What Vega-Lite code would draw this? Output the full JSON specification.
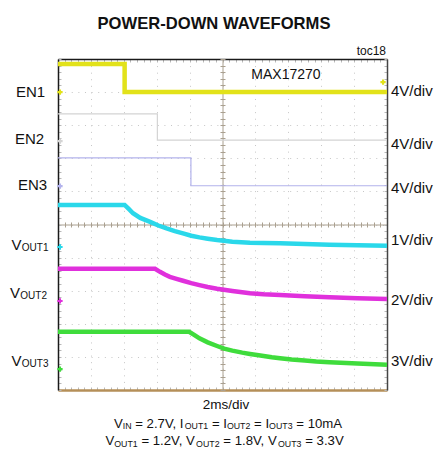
{
  "$schema": "https://vega.github.io/schema/vega-lite/v6.json",
  "width": 329,
  "height": 331,
  "autosize": "none",
  "padding": {"left": 58, "top": 59, "right": 54, "bottom": 66},
  "background": "white",
  "title": {"text": "POWER-DOWN WAVEFORMS", "font": "Liberation Sans", "fontSize": 16.6, "fontWeight": "bold", "color": "#111111", "anchor": "middle", "frame": "group", "dx": -8.5, "offset": 12.5},
  "config": {"view": {"stroke": null}, "text": {"font": "Liberation Sans", "color": "#111111"}},
  "datasets": {
    "traces": [
      {"series": "EN1", "t": 0, "v": 9.85}, {"series": "EN1", "t": 4.05, "v": 9.85}, {"series": "EN1", "t": 4.05, "v": 9.0}, {"series": "EN1", "t": 20, "v": 9.0},
      {"series": "EN2", "t": 0, "v": 8.34}, {"series": "EN2", "t": 6.04, "v": 8.34}, {"series": "EN2", "t": 6.04, "v": 7.55}, {"series": "EN2", "t": 20, "v": 7.55},
      {"series": "EN3", "t": 0, "v": 7.01}, {"series": "EN3", "t": 8.08, "v": 7.01}, {"series": "EN3", "t": 8.08, "v": 6.17}, {"series": "EN3", "t": 20, "v": 6.17},
      {"series": "VOUT1", "t": 0, "v": 5.59}, {"series": "VOUT1", "t": 4.05, "v": 5.59}, {"series": "VOUT1", "t": 4.3, "v": 5.47}, {"series": "VOUT1", "t": 4.56, "v": 5.34}, {"series": "VOUT1", "t": 5.0, "v": 5.2}, {"series": "VOUT1", "t": 5.6, "v": 5.08}, {"series": "VOUT1", "t": 6.1, "v": 4.97}, {"series": "VOUT1", "t": 6.6, "v": 4.88}, {"series": "VOUT1", "t": 7.1, "v": 4.8}, {"series": "VOUT1", "t": 7.6, "v": 4.73}, {"series": "VOUT1", "t": 8.1, "v": 4.66}, {"series": "VOUT1", "t": 8.6, "v": 4.61}, {"series": "VOUT1", "t": 9.1, "v": 4.57}, {"series": "VOUT1", "t": 9.67, "v": 4.53}, {"series": "VOUT1", "t": 10.6, "v": 4.48}, {"series": "VOUT1", "t": 11.67, "v": 4.45}, {"series": "VOUT1", "t": 12.5, "v": 4.44}, {"series": "VOUT1", "t": 13.5, "v": 4.43}, {"series": "VOUT1", "t": 15, "v": 4.41}, {"series": "VOUT1", "t": 16.5, "v": 4.39}, {"series": "VOUT1", "t": 18.2, "v": 4.37}, {"series": "VOUT1", "t": 20, "v": 4.36},
      {"series": "VOUT2", "t": 0, "v": 3.66}, {"series": "VOUT2", "t": 5.9, "v": 3.66}, {"series": "VOUT2", "t": 6.2, "v": 3.57}, {"series": "VOUT2", "t": 6.5, "v": 3.49}, {"series": "VOUT2", "t": 6.8, "v": 3.42}, {"series": "VOUT2", "t": 7.2, "v": 3.36}, {"series": "VOUT2", "t": 7.6, "v": 3.3}, {"series": "VOUT2", "t": 8.1, "v": 3.23}, {"series": "VOUT2", "t": 8.6, "v": 3.17}, {"series": "VOUT2", "t": 9.1, "v": 3.11}, {"series": "VOUT2", "t": 9.67, "v": 3.06}, {"series": "VOUT2", "t": 10.6, "v": 2.99}, {"series": "VOUT2", "t": 11.67, "v": 2.92}, {"series": "VOUT2", "t": 12.5, "v": 2.89}, {"series": "VOUT2", "t": 13.5, "v": 2.87}, {"series": "VOUT2", "t": 15, "v": 2.83}, {"series": "VOUT2", "t": 16.5, "v": 2.8}, {"series": "VOUT2", "t": 18.2, "v": 2.77}, {"series": "VOUT2", "t": 20, "v": 2.75},
      {"series": "VOUT3", "t": 0, "v": 1.76}, {"series": "VOUT3", "t": 7.97, "v": 1.76}, {"series": "VOUT3", "t": 8.3, "v": 1.66}, {"series": "VOUT3", "t": 8.6, "v": 1.56}, {"series": "VOUT3", "t": 9.1, "v": 1.44}, {"series": "VOUT3", "t": 9.67, "v": 1.33}, {"series": "VOUT3", "t": 10.1, "v": 1.25}, {"series": "VOUT3", "t": 10.6, "v": 1.19}, {"series": "VOUT3", "t": 11.2, "v": 1.13}, {"series": "VOUT3", "t": 11.67, "v": 1.09}, {"series": "VOUT3", "t": 12.2, "v": 1.05}, {"series": "VOUT3", "t": 13, "v": 0.99}, {"series": "VOUT3", "t": 13.5, "v": 0.96}, {"series": "VOUT3", "t": 14.2, "v": 0.92}, {"series": "VOUT3", "t": 15, "v": 0.89}, {"series": "VOUT3", "t": 15.7, "v": 0.86}, {"series": "VOUT3", "t": 16.5, "v": 0.84}, {"series": "VOUT3", "t": 18.2, "v": 0.8}, {"series": "VOUT3", "t": 20, "v": 0.76}
    ],
    "markers": [
      {"series": "EN1", "t": 0.12, "v": 9.0}, {"series": "EN2", "t": 0.12, "v": 7.52}, {"series": "EN3", "t": 0.12, "v": 6.16},
      {"series": "VOUT1", "t": 0.12, "v": 4.32}, {"series": "VOUT2", "t": 0.12, "v": 2.69}, {"series": "VOUT3", "t": 0.12, "v": 0.63},
      {"series": "EN1", "t": 19.76, "v": 9.3}
    ],
    "texts": [
      {"kind": "label", "text": "EN1", "t": -2.553, "v": 8.852},
      {"kind": "label", "text": "EN2", "t": -2.614, "v": 7.432},
      {"kind": "label", "text": "EN3", "t": -2.432, "v": 6.042},
      {"kind": "label", "text": "V", "t": -2.827, "v": 4.23},
      {"kind": "label", "text": "V", "t": -2.918, "v": 2.779},
      {"kind": "label", "text": "V", "t": -2.827, "v": 0.725},
      {"kind": "labelSub", "text": "OUT1", "t": -2.2, "v": 4.23},
      {"kind": "labelSub", "text": "OUT2", "t": -2.29, "v": 2.779},
      {"kind": "labelSub", "text": "OUT3", "t": -2.2, "v": 0.725},
      {"kind": "label", "text": "4V/div", "t": 20.243, "v": 8.882},
      {"kind": "label", "text": "4V/div", "t": 20.243, "v": 7.281},
      {"kind": "label", "text": "4V/div", "t": 20.243, "v": 5.952},
      {"kind": "label", "text": "1V/div", "t": 20.243, "v": 4.381},
      {"kind": "label", "text": "2V/div", "t": 20.243, "v": 2.568},
      {"kind": "label", "text": "3V/div", "t": 20.243, "v": 0.725},
      {"kind": "brand", "text": "MAX17270", "t": 13.86, "v": 9.396},
      {"kind": "toc", "text": "toc18", "t": 19.94, "v": 10.12},
      {"kind": "xunit", "text": "2ms/div", "t": 10.21, "v": -0.574},
      {"kind": "cond", "text": "V", "t": 3.398, "v": -1.148},
      {"kind": "condSub", "text": "IN", "t": 3.933, "v": -1.148},
      {"kind": "cond", "text": "= 2.7V, I", "t": 4.693, "v": -1.148},
      {"kind": "condSub", "text": "OUT1", "t": 7.702, "v": -1.148},
      {"kind": "cond", "text": "= I", "t": 9.356, "v": -1.148},
      {"kind": "condSub", "text": "OUT2", "t": 10.267, "v": -1.148},
      {"kind": "cond", "text": "= I", "t": 11.921, "v": -1.148},
      {"kind": "condSub", "text": "OUT3", "t": 12.833, "v": -1.148},
      {"kind": "cond", "text": "= 10mA", "t": 14.486, "v": -1.148},
      {"kind": "cond", "text": "V", "t": 2.881, "v": -1.662},
      {"kind": "condSub", "text": "OUT1", "t": 3.416, "v": -1.662},
      {"kind": "cond", "text": "= 1.2V, V", "t": 5.07, "v": -1.662},
      {"kind": "condSub", "text": "OUT2", "t": 8.395, "v": -1.662},
      {"kind": "cond", "text": "= 1.8V, V", "t": 10.049, "v": -1.662},
      {"kind": "condSub", "text": "OUT3", "t": 13.374, "v": -1.662},
      {"kind": "cond", "text": "= 3.3V", "t": 15.027, "v": -1.662}
    ]
  },
  "layer": [
    {
      "data": {"name": "traces"},
      "transform": [{"filter": "datum.series === 'EN2' || datum.series === 'EN3'"}],
      "mark": {"type": "line", "strokeWidth": 1.2},
      "encoding": {
        "x": {"field": "t", "type": "quantitative", "scale": {"domain": [0, 20], "nice": false, "zero": false},
          "axis": {"orient": "bottom", "values": [0, 2, 4, 6, 8, 10, 12, 14, 16, 18, 20], "grid": true, "gridColor": "#c6c6c6", "gridDash": [1, 5.58], "gridWidth": 1, "ticks": false, "labels": false, "domain": false, "title": null}},
        "y": {"field": "v", "type": "quantitative", "scale": {"domain": [0, 10], "nice": false, "zero": false},
          "axis": {"orient": "left", "values": [0, 1, 2, 3, 4, 5, 6, 7, 8, 9, 10], "grid": true, "gridColor": "#c6c6c6", "gridDash": [1, 5.62], "gridWidth": 1, "ticks": false, "labels": false, "domain": false, "title": null}},
        "color": {"field": "series", "type": "nominal", "scale": {"domain": ["EN1", "EN2", "EN3", "VOUT1", "VOUT2", "VOUT3"], "range": ["#e2e21a", "#d4d4d4", "#b3b3ec", "#2ad8ea", "#e030dc", "#3fdc3c"]}, "legend": null},
        "order": {"value": null}
      }
    },
    {
      "data": {"name": "traces"},
      "transform": [{"filter": "datum.series !== 'EN2' && datum.series !== 'EN3'"}],
      "mark": {"type": "line", "strokeWidth": 4.5},
      "encoding": {
        "x": {"field": "t", "type": "quantitative",
          "axis": {"orient": "bottom", "offset": -165.5, "values": [0,0.4,0.8,1.2,1.6,2,2.4,2.8,3.2,3.6,4,4.4,4.8,5.2,5.6,6,6.4,6.8,7.2,7.6,8,8.4,8.8,9.2,9.6,10,10.4,10.8,11.2,11.6,12,12.4,12.8,13.2,13.6,14,14.4,14.8,15.2,15.6,16,16.4,16.8,17.2,17.6,18,18.4,18.8,19.2,19.6,20], "grid": false, "ticks": true, "tickSize": 2.5, "tickColor": "#aaa090", "tickWidth": 1, "labels": false, "domain": true, "domainColor": "#aaa090", "domainWidth": 1, "title": null}},
        "y": {"field": "v", "type": "quantitative",
          "axis": {"orient": "left", "offset": -164.5, "values": [0,0.2,0.4,0.6,0.8,1,1.2,1.4,1.6,1.8,2,2.2,2.4,2.6,2.8,3,3.2,3.4,3.6,3.8,4,4.2,4.4,4.6,4.8,5,5.2,5.4,5.6,5.8,6,6.2,6.4,6.6,6.8,7,7.2,7.4,7.6,7.8,8,8.2,8.4,8.6,8.8,9,9.2,9.4,9.6,9.8,10], "grid": false, "ticks": true, "tickSize": 2.5, "tickColor": "#aaa090", "tickWidth": 1, "labels": false, "domain": true, "domainColor": "#aaa090", "domainWidth": 1, "title": null}},
        "color": {"field": "series", "type": "nominal", "legend": null},
        "order": {"value": null}
      }
    },
    {
      "data": {"name": "markers"},
      "mark": {"type": "point", "shape": "cross", "size": 28, "filled": true, "opacity": 1},
      "encoding": {
        "x": {"field": "t", "type": "quantitative",
          "axis": {"orient": "top", "offset": -165.5, "values": [0,0.4,0.8,1.2,1.6,2,2.4,2.8,3.2,3.6,4,4.4,4.8,5.2,5.6,6,6.4,6.8,7.2,7.6,8,8.4,8.8,9.2,9.6,10,10.4,10.8,11.2,11.6,12,12.4,12.8,13.2,13.6,14,14.4,14.8,15.2,15.6,16,16.4,16.8,17.2,17.6,18,18.4,18.8,19.2,19.6,20], "grid": false, "ticks": true, "tickSize": 2.5, "tickColor": "#aaa090", "tickWidth": 1, "labels": false, "domain": false, "title": null}},
        "y": {"field": "v", "type": "quantitative",
          "axis": {"orient": "right", "offset": -164.5, "values": [0,0.2,0.4,0.6,0.8,1,1.2,1.4,1.6,1.8,2,2.2,2.4,2.6,2.8,3,3.2,3.4,3.6,3.8,4,4.2,4.4,4.6,4.8,5,5.2,5.4,5.6,5.8,6,6.2,6.4,6.6,6.8,7,7.2,7.4,7.6,7.8,8,8.2,8.4,8.6,8.8,9,9.2,9.4,9.6,9.8,10], "grid": false, "ticks": true, "tickSize": 2.5, "tickColor": "#aaa090", "tickWidth": 1, "labels": false, "domain": false, "title": null}},
        "color": {"field": "series", "type": "nominal", "legend": null}
      }
    },
    {
      "data": {"name": "texts"},
      "transform": [{"filter": "datum.kind === 'label'"}],
      "mark": {"type": "text", "fontSize": 15, "align": "left", "baseline": "alphabetic"},
      "encoding": {
        "x": {"field": "t", "type": "quantitative",
          "axis": {"orient": "bottom", "values": [0,0.4,0.8,1.2,1.6,2,2.4,2.8,3.2,3.6,4,4.4,4.8,5.2,5.6,6,6.4,6.8,7.2,7.6,8,8.4,8.8,9.2,9.6,10,10.4,10.8,11.2,11.6,12,12.4,12.8,13.2,13.6,14,14.4,14.8,15.2,15.6,16,16.4,16.8,17.2,17.6,18,18.4,18.8,19.2,19.6,20], "grid": false, "ticks": true, "tickSize": -3, "tickColor": "#b8b8b8", "tickWidth": 1, "labels": false, "domain": true, "domainColor": "#b58f58", "domainWidth": 2.5, "title": null}},
        "y": {"field": "v", "type": "quantitative",
          "axis": {"orient": "left", "values": [0,0.2,0.4,0.6,0.8,1,1.2,1.4,1.6,1.8,2,2.2,2.4,2.6,2.8,3,3.2,3.4,3.6,3.8,4,4.2,4.4,4.6,4.8,5,5.2,5.4,5.6,5.8,6,6.2,6.4,6.6,6.8,7,7.2,7.4,7.6,7.8,8,8.2,8.4,8.6,8.8,9,9.2,9.4,9.6,9.8,10], "grid": false, "ticks": true, "tickSize": -3, "tickColor": "#b8b8b8", "tickWidth": 1, "labels": false, "domain": true, "domainColor": "#1a1a1a", "domainWidth": 1.5, "title": null}},
        "text": {"field": "text"}
      }
    },
    {
      "data": {"name": "texts"},
      "transform": [{"filter": "datum.kind === 'labelSub'"}],
      "mark": {"type": "text", "fontSize": 10, "align": "left", "baseline": "alphabetic", "dy": 1},
      "encoding": {
        "x": {"field": "t", "type": "quantitative",
          "axis": {"orient": "top", "values": [0,0.4,0.8,1.2,1.6,2,2.4,2.8,3.2,3.6,4,4.4,4.8,5.2,5.6,6,6.4,6.8,7.2,7.6,8,8.4,8.8,9.2,9.6,10,10.4,10.8,11.2,11.6,12,12.4,12.8,13.2,13.6,14,14.4,14.8,15.2,15.6,16,16.4,16.8,17.2,17.6,18,18.4,18.8,19.2,19.6,20], "grid": false, "ticks": true, "tickSize": -3, "tickColor": "#b8b8b8", "tickWidth": 1, "labels": false, "domain": true, "domainColor": "#1a1a1a", "domainWidth": 1.5, "title": null}},
        "y": {"field": "v", "type": "quantitative",
          "axis": {"orient": "right", "values": [0,0.2,0.4,0.6,0.8,1,1.2,1.4,1.6,1.8,2,2.2,2.4,2.6,2.8,3,3.2,3.4,3.6,3.8,4,4.2,4.4,4.6,4.8,5,5.2,5.4,5.6,5.8,6,6.2,6.4,6.6,6.8,7,7.2,7.4,7.6,7.8,8,8.2,8.4,8.6,8.8,9,9.2,9.4,9.6,9.8,10], "grid": false, "ticks": true, "tickSize": -3, "tickColor": "#b8b8b8", "tickWidth": 1, "labels": false, "domain": true, "domainColor": "#444444", "domainWidth": 1.5, "title": null}},
        "text": {"field": "text"}
      }
    },
    {
      "data": {"name": "texts"},
      "transform": [{"filter": "datum.kind === 'brand'"}],
      "mark": {"type": "text", "fontSize": 14, "align": "center", "baseline": "alphabetic"},
      "encoding": {
        "x": {"field": "t", "type": "quantitative", "axis": null},
        "y": {"field": "v", "type": "quantitative", "axis": null},
        "text": {"field": "text"}
      }
    },
    {
      "data": {"name": "texts"},
      "transform": [{"filter": "datum.kind === 'toc'"}],
      "mark": {"type": "text", "fontSize": 12, "align": "right", "baseline": "alphabetic"},
      "encoding": {
        "x": {"field": "t", "type": "quantitative", "axis": null},
        "y": {"field": "v", "type": "quantitative", "axis": null},
        "text": {"field": "text"}
      }
    },
    {
      "data": {"name": "texts"},
      "transform": [{"filter": "datum.kind === 'xunit'"}],
      "mark": {"type": "text", "fontSize": 13.5, "align": "center", "baseline": "alphabetic"},
      "encoding": {
        "x": {"field": "t", "type": "quantitative", "axis": null},
        "y": {"field": "v", "type": "quantitative", "axis": null},
        "text": {"field": "text"}
      }
    },
    {
      "data": {"name": "texts"},
      "transform": [{"filter": "datum.kind === 'cond'"}],
      "mark": {"type": "text", "fontSize": 13.2, "align": "left", "baseline": "alphabetic"},
      "encoding": {
        "x": {"field": "t", "type": "quantitative", "axis": null},
        "y": {"field": "v", "type": "quantitative", "axis": null},
        "text": {"field": "text"}
      }
    },
    {
      "data": {"name": "texts"},
      "transform": [{"filter": "datum.kind === 'condSub'"}],
      "mark": {"type": "text", "fontSize": 8.8, "align": "left", "baseline": "alphabetic", "dy": 1.5},
      "encoding": {
        "x": {"field": "t", "type": "quantitative", "axis": null},
        "y": {"field": "v", "type": "quantitative", "axis": null},
        "text": {"field": "text"}
      }
    }
  ],
  "resolve": {"axis": {"x": "independent", "y": "independent"}}
}
